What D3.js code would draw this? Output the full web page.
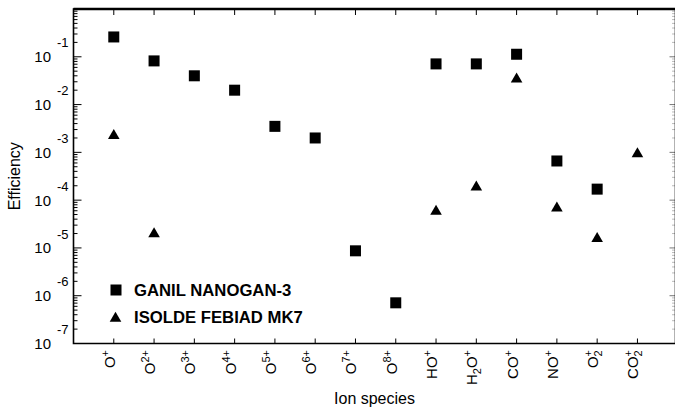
<!DOCTYPE html>
<html>
<head>
<meta charset="utf-8">
<script src="https://cdn.jsdelivr.net/npm/d3@7"></script>
<style>
    body { margin: 0; background: #fff; }
    svg { display: block; font-family: "Liberation Sans", Arial, sans-serif; }
</style>
</head>
<body>
<svg id="plot"></svg>
<script>
const WIDTH = 675;
const HEIGHT = 410;

// Ion species on the x axis, markup: ^{..} superscript, _{..} subscript
const tickLabels = ['O^{+}', 'O^{2+}', 'O^{3+}', 'O^{4+}', 'O^{5+}', 'O^{6+}', 'O^{7+}', 'O^{8+}',
    'HO^{+}', 'H_{2}O^{+}', 'CO^{+}', 'NO^{+}', 'O_{2}^{+}', 'CO_{2}^{+}'];

// Efficiencies (null = not measured)
const ganilNanogan = [0.26, 0.082, 0.040, 0.020, 0.0035, 0.0020, 8.7e-6, 7.1e-7,
    0.071, 0.071, 0.113, 6.6e-4, 1.7e-4, null];
const isoldeFebiad = [0.0024, 2.1e-5, null, null, null, null, null, null,
    6.2e-5, 2.0e-4, 0.0365, 7.3e-5, 1.67e-5, 1.0e-3];

const seriesNames = ['GANIL NANOGAN-3', 'ISOLDE FEBIAD MK7'];
const yExponents = [-1, -2, -3, -4, -5, -6, -7];

// Plot frame
const pLeft = 73.5, pRight = 675.5, pTop = 9, pBottom = 343.5;

let svg = d3.select('#plot')
    .attr('width', WIDTH)
    .attr('height', HEIGHT);

let xScale = d3.scaleLinear()
    .domain([-1, 13.92])
    .range([pLeft, pRight - 1]);

let yScale = d3.scaleLog()
    .domain([1e-7, 1])
    .range([pBottom, pTop]);

////////////////////////////////////////////////////////////////////////////////
// Axes
////////////////////////////////////////////////////////////////////////////////

// minor + major ticks of the log axis
let logTicks = [];
for (let e = -7; e < 0; e++) {
    for (let m = 1; m <= 9; m++) {
        logTicks.push({ v: m * Math.pow(10, e), major: m === 1 });
    }
}
logTicks.push({ v: 1, major: true });

// left ticks
svg.append('g')
    .selectAll('line')
    .data(logTicks)
    .enter().append('line')
        .attr('x1', pLeft)
        .attr('x2', d => pLeft + (d.major ? 8 : 4))
        .attr('y1', d => yScale(d.v))
        .attr('y2', d => yScale(d.v))
        .attr('stroke', '#000')
        .attr('stroke-width', 1);

// right ticks (faint)
svg.append('g')
    .selectAll('line')
    .data(logTicks)
    .enter().append('line')
        .attr('x1', pRight)
        .attr('x2', d => pRight - (d.major ? 6 : 3))
        .attr('y1', d => yScale(d.v))
        .attr('y2', d => yScale(d.v))
        .attr('stroke', '#777')
        .attr('stroke-width', 1)
        .attr('stroke-dasharray', d => d.major ? null : '1,1');

// top and bottom category ticks
let catIdx = tickLabels.map((d, i) => i);
svg.append('g')
    .selectAll('line')
    .data(catIdx)
    .enter().append('line')
        .attr('x1', d => xScale(d))
        .attr('x2', d => xScale(d))
        .attr('y1', pBottom)
        .attr('y2', pBottom - 5)
        .attr('stroke', '#000');
svg.append('g')
    .selectAll('line')
    .data(catIdx)
    .enter().append('line')
        .attr('x1', d => xScale(d))
        .attr('x2', d => xScale(d))
        .attr('y1', pTop)
        .attr('y2', pTop + 6)
        .attr('stroke', '#000');

// frame
svg.append('path')
    .attr('d', `M${pLeft},${pTop}H${pRight}V${pBottom}H${pLeft}Z`)
    .attr('fill', 'none')
    .attr('stroke', '#000')
    .attr('stroke-width', 1.6);
svg.append('line')
    .attr('x1', pLeft).attr('x2', pRight)
    .attr('y1', pTop).attr('y2', pTop)
    .attr('stroke', '#000')
    .attr('stroke-width', 2.4);

// y tick labels: 10 with exponent
let yLab = svg.append('g').selectAll('g')
    .data(yExponents)
    .enter().append('g');
yLab.append('text')
    .attr('x', 51)
    .attr('y', d => yScale(Math.pow(10, d)))
    .attr('dy', '0.36em')
    .attr('text-anchor', 'end')
    .attr('font-size', 15)
    .text('10');
yLab.append('text')
    .attr('x', 57)
    .attr('y', d => yScale(Math.pow(10, d)) - 14)
    .attr('dy', '0.36em')
    .attr('font-size', 13)
    .text(d => String(d));

// x tick labels, rotated
function addRich(textSel, label) {
    let parts = label.split(/(\^\{[^}]*\}|_\{[^}]*\})/).filter(p => p !== '');
    let shift = 0;
    let lastSubWidth = 0;
    parts.forEach(p => {
        let kind = p[0] === '^' ? 'sup' : (p[0] === '_' ? 'sub' : 'base');
        let txt = kind === 'base' ? p : p.slice(2, -1);
        let target = kind === 'sup' ? -6 : (kind === 'sub' ? 4 : 0);
        let ts = textSel.append('tspan')
            .attr('dy', target - shift)
            .attr('font-size', kind === 'base' ? 15 : 11)
            .text(txt);
        if (kind === 'sup' && lastSubWidth > 0) ts.attr('dx', -lastSubWidth);
        lastSubWidth = kind === 'sub' ? ts.node().getComputedTextLength() : 0;
        shift = target;
    });
}

svg.append('g')
    .selectAll('text')
    .data(catIdx)
    .enter().append('text')
        .attr('x', d => xScale(d) + 1)
        .attr('y', 350)
        .attr('text-anchor', 'end')
        .attr('transform', d => `rotate(-90, ${xScale(d) + 1}, 350)`)
        .each(function(d) { addRich(d3.select(this), tickLabels[d]); });

// axis titles
svg.append('text')
    .attr('x', (pLeft + pRight) / 2)
    .attr('y', 404)
    .attr('text-anchor', 'middle')
    .attr('font-size', 16)
    .text('Ion species');
svg.append('text')
    .attr('transform', `translate(20, ${(pTop + pBottom) / 2}) rotate(-90)`)
    .attr('text-anchor', 'middle')
    .attr('font-size', 16)
    .text('Efficiency');

////////////////////////////////////////////////////////////////////////////////
// Markers
////////////////////////////////////////////////////////////////////////////////

const SQ = 11;
const triPath = 'M0,-5.2L5.8,4.8L-5.8,4.8Z';

svg.append('g')
    .selectAll('rect')
    .data(ganilNanogan.map((v, i) => ({ v, i })).filter(d => d.v !== null))
    .enter().append('rect')
        .attr('x', d => xScale(d.i) - SQ / 2)
        .attr('y', d => yScale(d.v) - SQ / 2)
        .attr('width', SQ)
        .attr('height', SQ)
        .attr('fill', '#000');

svg.append('g')
    .selectAll('path')
    .data(isoldeFebiad.map((v, i) => ({ v, i })).filter(d => d.v !== null))
    .enter().append('path')
        .attr('d', triPath)
        .attr('transform', d => `translate(${xScale(d.i)}, ${yScale(d.v)})`)
        .attr('fill', '#000');

// legend
let legend = svg.append('g');
legend.append('rect')
    .attr('x', 110.5).attr('y', 284.5)
    .attr('width', SQ).attr('height', SQ)
    .attr('fill', '#000');
legend.append('path')
    .attr('d', triPath)
    .attr('transform', 'translate(115.5, 317)')
    .attr('fill', '#000');
legend.selectAll('text')
    .data(seriesNames)
    .enter().append('text')
        .attr('x', 134)
        .attr('y', (d, i) => 290 + i * 27)
        .attr('dy', '0.36em')
        .attr('font-size', 16.7)
        .attr('font-weight', 'bold')
        .text(d => d);
</script>
</body>
</html>
